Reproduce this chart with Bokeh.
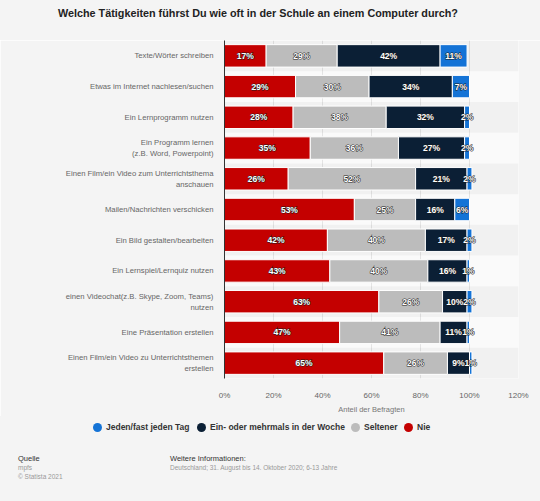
from bokeh.plotting import figure
from bokeh.layouts import column
from bokeh.models import FactorRange, Range1d, FixedTicker, ColumnDataSource, Div
from bokeh.embed import file_html
from bokeh.resources import INLINE
from bokeh.core.properties import value

categories = [
    "Texte/Wörter schreiben",
    "Etwas im Internet nachlesen/suchen",
    "Ein Lernprogramm nutzen",
    "Ein Programm lernen\n(z.B. Word, Powerpoint)",
    "Einen Film/ein Video zum Unterrichtsthema\nanschauen",
    "Mailen/Nachrichten verschicken",
    "Ein Bild gestalten/bearbeiten",
    "Ein Lernspiel/Lernquiz nutzen",
    "einen Videochat(z.B. Skype, Zoom, Teams)\nnutzen",
    "Eine Präsentation erstellen",
    "Einen Film/ein Video zu Unterrichtsthemen\nerstellen",
]
nie = [17, 29, 28, 35, 26, 53, 42, 43, 63, 47, 65]
seltener = [29, 30, 38, 36, 52, 25, 40, 40, 26, 41, 26]
woche = [42, 34, 32, 27, 21, 16, 17, 16, 10, 11, 9]
taeglich = [11, 7, 2, 2, 2, 6, 2, 1, 2, 1, 1]

series_keys = ["nie", "seltener", "woche", "taeglich"]
series_names = ["Nie", "Seltener", "Ein- oder mehrmals in der Woche", "Jeden/fast jeden Tag"]
series_colors = ["#c40000", "#bcbcbc", "#0b1f35", "#1473d6"]

x_ticks = [0, 20, 40, 60, 80, 100, 120]
x_tick_labels = ["0%", "20%", "40%", "60%", "80%", "100%", "120%"]

title_text = "Welche Tätigkeiten führst Du wie oft in der Schule an einem Computer durch?"
x_axis_title = "Anteil der Befragten"
source_title = "Quelle"
source_lines = ["mpfs", "© Statista 2021"]
info_title = "Weitere Informationen:"
info_text = "Deutschland; 31. August bis 14. Oktober 2020; 6-13 Jahre"

FONT = "Liberation Sans"
BG = "#f4f4f4"
W = 540
HEAD_H = 40
CHART_H = 376
FOOT_H = 85

# header with the title
header = Div(
    text=(f'<div style="position:relative;width:{W}px;height:{HEAD_H}px;background:{BG};'
          f'font-family:\'{FONT}\',sans-serif;">'
          f'<div style="position:absolute;left:0;width:516px;top:6px;text-align:center;font-size:10.8px;'
          f'line-height:14px;font-weight:bold;color:#222222;white-space:nowrap;">{title_text}</div></div>'),
    width=W, height=HEAD_H, margin=0, styles={"background-color": BG})

data = dict(cat=categories, nie=nie, seltener=seltener, woche=woche, taeglich=taeglich)
src = ColumnDataSource(data)

p = figure(
    width=W, height=CHART_H,
    y_range=FactorRange(factors=list(reversed(categories)), range_padding=0),
    x_range=Range1d(0, 120),
    output_backend="svg", toolbar_location=None,
    min_border_left=224, min_border_right=22, min_border_top=0, min_border_bottom=30,
)
p.border_fill_color = BG
p.background_fill_color = "#fafafa"
p.outline_line_color = None

# alternating row bands
p.hbar(y=categories[::2], left=0, right=120, height=1.0,
       fill_color="#000000", fill_alpha=0.035, line_color=None)

p.hbar_stack(series_keys, y="cat", height=0.73, color=series_colors, source=src,
             line_color="white", line_width=1)

# segment labels: outlined layer underneath, plain white layer on top
lx, ly, lt = [], [], []
for i, c in enumerate(categories):
    left = 0
    for key in series_keys:
        v = data[key][i]
        lx.append(left + v / 2)
        ly.append(c)
        lt.append(f"{v}%")
        left += v
p.text(x=lx, y=ly, text=lt, text_align="center", text_baseline="middle",
       text_color="white", text_font_size="8.5px", text_font=value(FONT),
       text_font_style="bold", text_outline_color="#1a1a1a")
p.text(x=lx, y=ly, text=lt, text_align="center", text_baseline="middle",
       text_color="white", text_font_size="8.5px", text_font=value(FONT),
       text_font_style="bold")

# axes
p.xaxis.ticker = FixedTicker(ticks=x_ticks)
p.xaxis.major_label_overrides = {t: l for t, l in zip(x_ticks, x_tick_labels)}
p.xaxis.axis_line_color = None
p.xaxis.major_tick_line_color = None
p.xaxis.minor_tick_line_color = None
p.xaxis.major_label_text_color = "#666666"
p.xaxis.major_label_text_font_size = "8px"
p.xaxis.major_label_text_font = FONT
p.xaxis.major_label_standoff = 6
p.xaxis.axis_label = x_axis_title
p.xaxis.axis_label_text_font_size = "7.5px"
p.xaxis.axis_label_text_font_style = "normal"
p.xaxis.axis_label_text_color = "#777777"
p.xaxis.axis_label_text_font = FONT
p.xaxis.axis_label_standoff = 2

p.yaxis.axis_line_color = "#333333"
p.yaxis.major_tick_line_color = None
p.yaxis.minor_tick_line_color = None
p.yaxis.major_label_text_color = "#666666"
p.yaxis.major_label_text_font_size = "7.7px"
p.yaxis.major_label_text_font = FONT
p.yaxis.major_label_standoff = 5

p.xgrid.grid_line_color = "#e4e4e4"
p.xgrid.ticker = FixedTicker(ticks=x_ticks)
p.ygrid.grid_line_color = None

# footer: legend (circle markers) and source information
legend_names = list(reversed(series_names))
legend_colors = list(reversed(series_colors))
legend_x = [97, 201, 355, 408]  # circle centres
parts = [f'<div style="position:relative;width:{W}px;height:{FOOT_H}px;background:{BG};'
         f'font-family:\'{FONT}\',sans-serif;">']
for name, col, cx in zip(legend_names, legend_colors, legend_x):
    parts.append(f'<div style="position:absolute;left:{cx - 4.5}px;top:6.5px;width:9px;height:9px;'
                 f'border-radius:50%;background:{col};"></div>')
    parts.append(f'<div style="position:absolute;left:{cx + 9}px;top:6px;font-size:8.5px;line-height:10px;'
                 f'font-weight:bold;color:#333333;white-space:nowrap;">{name}</div>')
parts.append(f'<div style="position:absolute;left:18px;top:38px;font-size:7.5px;line-height:9px;color:#333333;">{source_title}</div>')
for k, line in enumerate(source_lines):
    parts.append(f'<div style="position:absolute;left:18px;top:{47 + 9 * k}px;font-size:6.5px;line-height:9px;color:#999999;">{line}</div>')
parts.append(f'<div style="position:absolute;left:170px;top:38px;font-size:7.5px;line-height:9px;color:#333333;">{info_title}</div>')
parts.append(f'<div style="position:absolute;left:170px;top:47px;font-size:6.5px;line-height:9px;color:#999999;white-space:nowrap;">{info_text}</div>')
parts.append('</div>')
footer = Div(text="".join(parts), width=W, height=FOOT_H, margin=0,
             styles={"background-color": BG})

layout = column(header, p, footer, spacing=0)
open("out.html", "w").write(file_html(layout, INLINE))
